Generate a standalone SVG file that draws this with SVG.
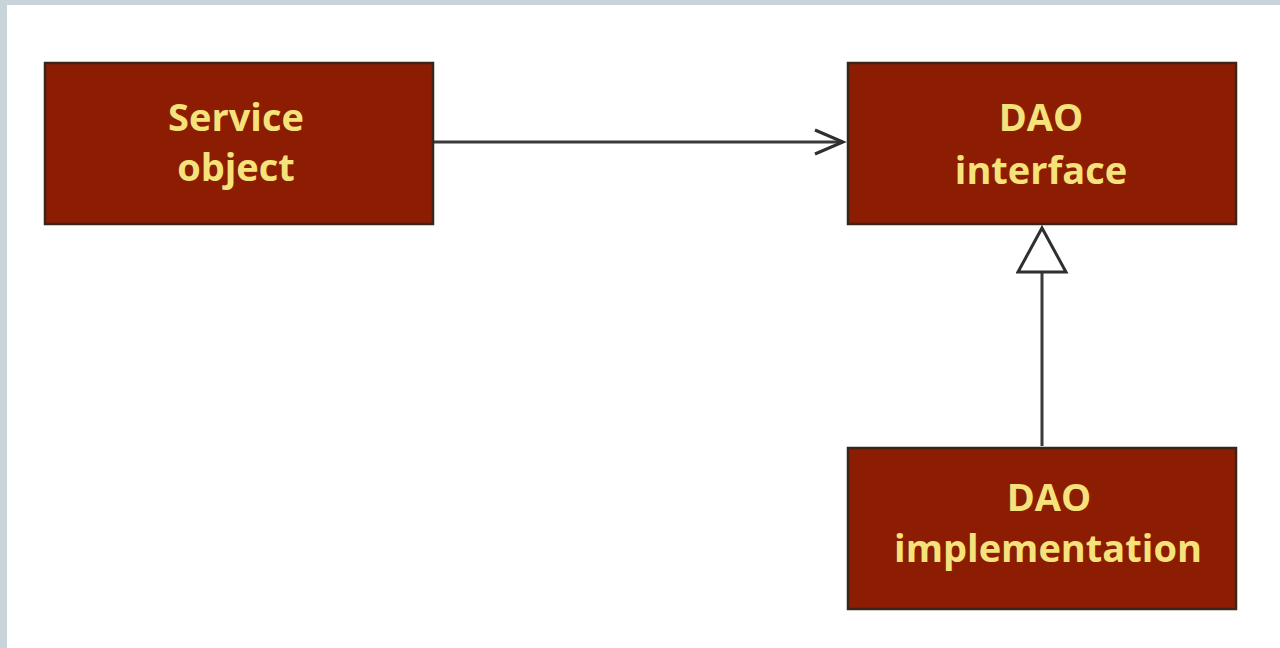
<svg xmlns="http://www.w3.org/2000/svg" width="1280" height="648" viewBox="0 0 1280 648">
<defs>
<style>
.box{fill:#8c1d02;stroke:#3b2418;stroke-width:2.5}
.lbl{font-family:"Open Sans",Lato,"Liberation Sans",sans-serif;font-weight:700;font-size:38px;fill:#f6e27a;text-anchor:middle}
.conn{stroke:#3a3a3a;stroke-width:3;fill:none}
</style>
<marker id="open" markerUnits="userSpaceOnUse" markerWidth="40" markerHeight="40" refX="30" refY="15" orient="auto">
<path d="M2,3 L30,15 L2,27" fill="none" stroke="#2f2f2f" stroke-width="3"/>
</marker>
<marker id="tri" markerUnits="userSpaceOnUse" markerWidth="60" markerHeight="60" refX="46" refY="26" orient="auto">
<path d="M2,2 L46,26 L2,50 Z" fill="#fff" stroke="#2f2f2f" stroke-width="3"/>
</marker>
</defs>
<rect width="1280" height="648" fill="#c9d3da"/>
<rect x="7" y="5" width="1273" height="643" fill="#ffffff"/>
<g id="connectors">
<line class="conn" x1="434" y1="142" x2="843" y2="142" marker-end="url(#open)"/>
<line class="conn" x1="1042" y1="446" x2="1042" y2="228" marker-end="url(#tri)"/>
</g>
<g id="service">
<rect class="box" x="45" y="63" width="388" height="161"/>
<text class="lbl" x="236" y="131">Service</text>
<text class="lbl" x="236" y="181">object</text>
</g>
<g id="dao-interface">
<rect class="box" x="848" y="63" width="388" height="161"/>
<text class="lbl" x="1041" y="131">DAO</text>
<text class="lbl" x="1041" y="184">interface</text>
</g>
<g id="dao-impl">
<rect class="box" x="848" y="448" width="388" height="161"/>
<text class="lbl" x="1049" y="511">DAO</text>
<text class="lbl" x="1048" y="562">implementation</text>
</g>
</svg>
